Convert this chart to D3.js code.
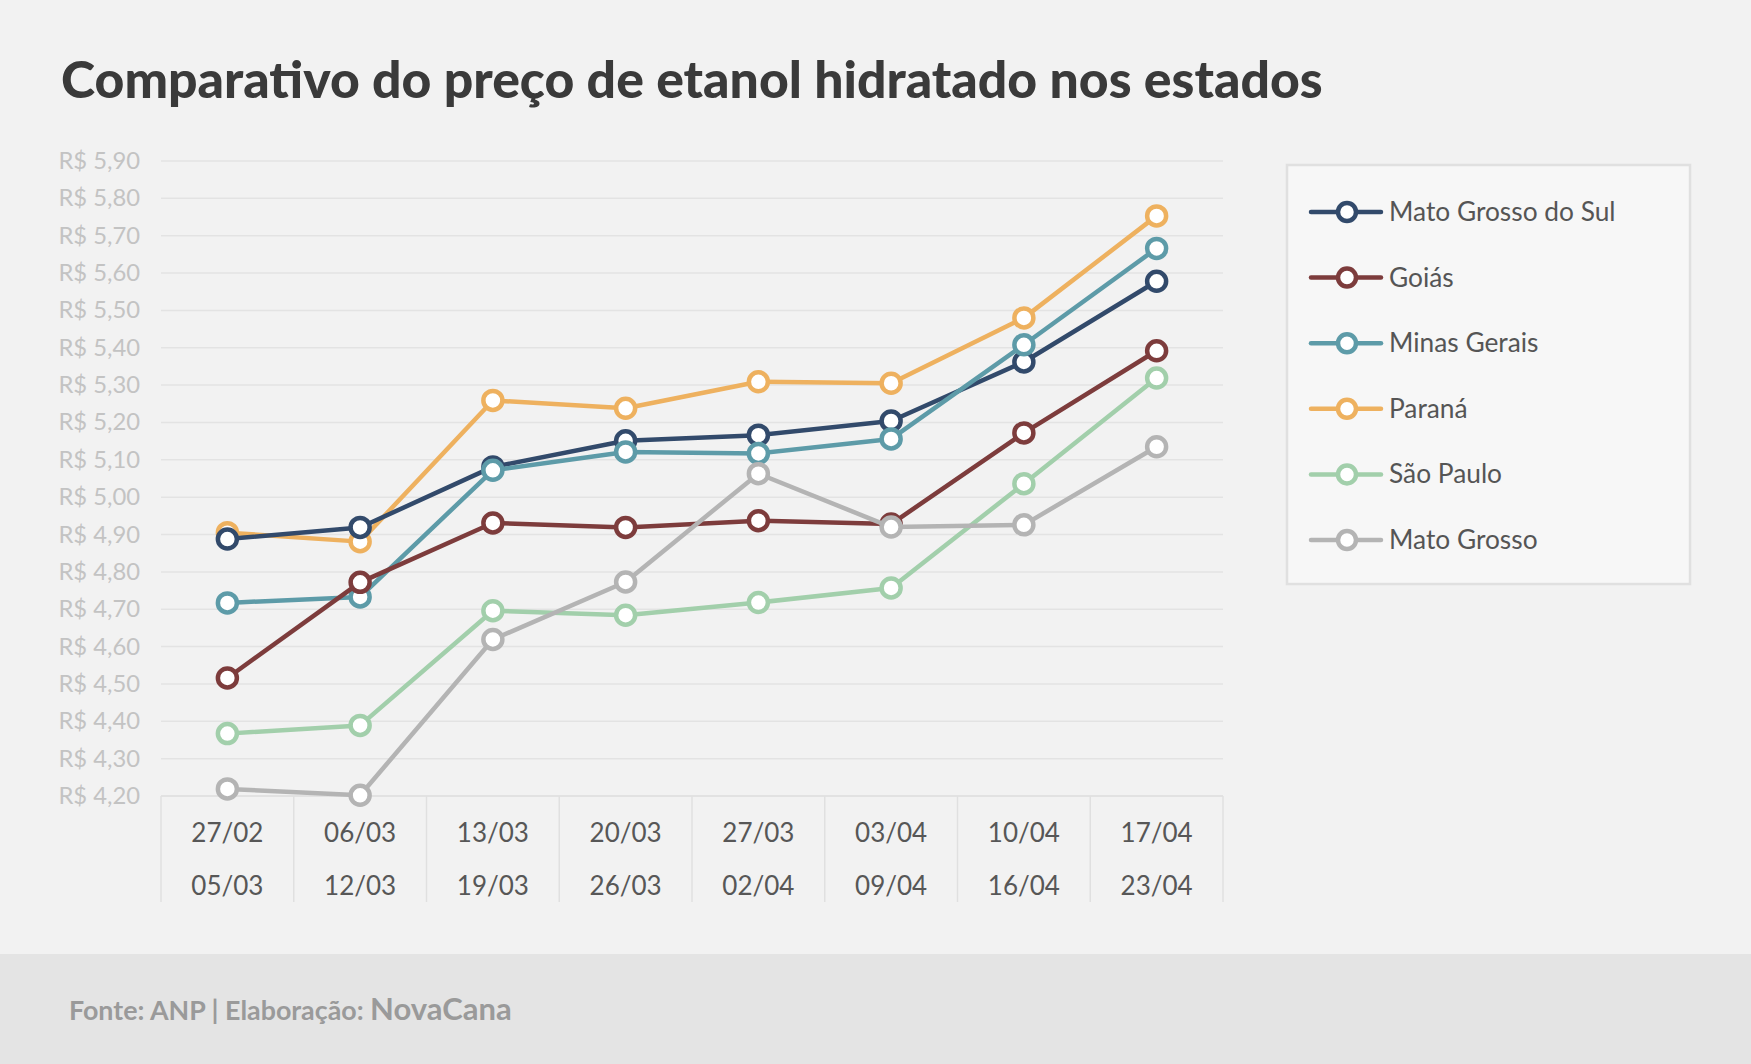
<!DOCTYPE html>
<html>
<head>
<meta charset="utf-8">
<script src="https://cdn.jsdelivr.net/npm/d3@7"></script>
<style>
  html, body { margin: 0; padding: 0; background: #f2f2f2; }
  #chart { width: 1751px; height: 1064px; }
  text { font-family: Lato, "Open Sans", sans-serif; }
</style>
</head>
<body>
<div id="chart"></div>
<script>
// week ranges (two lines per tick)
const WEEK_START = ["27/02", "06/03", "13/03", "20/03", "27/03", "03/04", "10/04", "17/04"];
const WEEK_END = ["05/03", "12/03", "19/03", "26/03", "02/04", "09/04", "16/04", "23/04"];

// y ticks
const Y_TICKS = [4.2, 4.3, 4.4, 4.5, 4.6, 4.7, 4.8, 4.9, 5.0, 5.1, 5.2, 5.3, 5.4, 5.5, 5.6, 5.7, 5.8, 5.9];

// legend order
const STATES = ["Mato Grosso do Sul", "Goiás", "Minas Gerais", "Paraná", "São Paulo", "Mato Grosso"];
const COLORS = ["#324a6b", "#7d3c3c", "#5d9ba8", "#eeb15f", "#a2cfab", "#b4b4b4"];

// avg prices (R$)
const MS_VALUES = [4.888, 4.919, 5.081, 5.151, 5.166, 5.204, 5.362, 5.578];
const GO_VALUES = [4.516, 4.772, 4.931, 4.919, 4.937, 4.928, 5.172, 5.392];
const MG_VALUES = [4.717, 4.733, 5.072, 5.121, 5.117, 5.156, 5.408, 5.666];
const PR_VALUES = [4.905, 4.881, 5.259, 5.238, 5.309, 5.305, 5.480, 5.753];
const SP_VALUES = [4.367, 4.389, 4.696, 4.684, 4.718, 4.757, 5.036, 5.319];
const MT_VALUES = [4.219, 4.202, 4.619, 4.773, 5.063, 4.920, 4.926, 5.135];

(() => {
  const W = 1751, H = 1064;
  const margin = { top: 161, left: 161 };
  const plotW = 1062, plotH = 635;

  const svgRoot = d3.select("#chart")
    .append("svg")
    .attr("width", W)
    .attr("height", H);

  svgRoot.append("rect")
    .attr("width", W).attr("height", H)
    .attr("fill", "#f2f2f2");

  // footer band
  svgRoot.append("rect")
    .attr("x", 0).attr("y", 954)
    .attr("width", W).attr("height", H - 954)
    .attr("fill", "#e4e4e4");

  // Title (fit to reference width)
  const title = svgRoot.append("text")
    .attr("x", 61)
    .attr("y", 98)
    .attr("font-size", 56)
    .attr("font-weight", 900)
    .attr("fill", "#3a3a3a")
    .text("Comparativo do preço de etanol hidratado nos estados");
  const tw = title.node().getComputedTextLength();
  title.attr("font-size", 56 * 1262 / tw);

  // Footer
  const foot = svgRoot.append("text")
    .attr("x", 69)
    .attr("y", 1020)
    .attr("fill", "#9a9a9a")
    .attr("font-weight", 700)
    .attr("font-size", 26.8);
  foot.append("tspan").text("Fonte: ANP | Elaboração: ");
  foot.append("tspan").attr("font-size", 31).text("NovaCana");

  const svg = svgRoot.append("g")
    .attr("transform", `translate(${margin.left},${margin.top})`);

  const x = d3.scaleBand()
    .domain(WEEK_START)
    .range([0, plotW]);

  const y = d3.scaleLinear()
    .domain([4.2, 5.9])
    .range([plotH, 0]);

  // gridlines
  svg.append("g")
    .selectAll("line")
    .data(Y_TICKS)
    .enter()
    .append("line")
    .attr("x1", 0).attr("x2", plotW)
    .attr("y1", (d) => y(d)).attr("y2", (d) => y(d))
    .attr("stroke", (d) => (d === 4.2 ? "#dcdcdc" : "#e3e3e3"))
    .attr("stroke-width", 1.5);

  // y labels
  svg.append("g")
    .selectAll("text")
    .data(Y_TICKS)
    .enter()
    .append("text")
    .attr("x", -21)
    .attr("y", (d) => y(d) + 8)
    .attr("text-anchor", "end")
    .attr("font-size", 23.8)
    .attr("fill", "#c3c3c3")
    .text((d) => "R$ " + d.toFixed(2).replace(".", ","));

  // category dividers under the axis
  const dividers = WEEK_START.map((d) => x(d)).concat([plotW]);
  svg.append("g")
    .selectAll("line")
    .data(dividers)
    .enter()
    .append("line")
    .attr("x1", (d) => d).attr("x2", (d) => d)
    .attr("y1", plotH).attr("y2", plotH + 106)
    .attr("stroke", "#e0e0e0")
    .attr("stroke-width", 1.5);

  // category labels
  const xl = svg.append("g");
  WEEK_START.forEach((d, i) => {
    const cx = x(d) + x.bandwidth() / 2;
    xl.append("text")
      .attr("x", cx).attr("y", plotH + 46)
      .attr("text-anchor", "middle")
      .attr("font-size", 26)
      .attr("fill", "#575757")
      .text(d);
    xl.append("text")
      .attr("x", cx).attr("y", plotH + 99)
      .attr("text-anchor", "middle")
      .attr("font-size", 26)
      .attr("fill", "#575757")
      .text(WEEK_END[i]);
  });

  const seriesValues = [MS_VALUES, GO_VALUES, MG_VALUES, PR_VALUES, SP_VALUES, MT_VALUES];
  const series = STATES.map((name, i) => ({ name, color: COLORS[i], values: seriesValues[i] }));

  // drawing order (bottom to top)
  const drawOrder = ["Paraná", "Mato Grosso do Sul", "Minas Gerais", "Goiás", "São Paulo", "Mato Grosso"];

  const line = d3.line()
    .x((d, i) => x(WEEK_START[i]) + x.bandwidth() / 2)
    .y((d) => y(d));

  drawOrder.forEach((name) => {
    const s = series.find((d) => d.name === name);
    const g = svg.append("g");
    g.append("path")
      .datum(s.values)
      .attr("fill", "none")
      .attr("stroke", s.color)
      .attr("stroke-width", 4.5)
      .attr("stroke-linejoin", "round")
      .attr("d", line);
    g.selectAll("circle")
      .data(s.values)
      .enter()
      .append("circle")
      .attr("cx", (d, i) => x(WEEK_START[i]) + x.bandwidth() / 2)
      .attr("cy", (d) => y(d))
      .attr("r", 9.5)
      .attr("fill", "#ffffff")
      .attr("stroke", s.color)
      .attr("stroke-width", 4.5);
  });

  // Legend
  const legend = svgRoot.append("g");
  legend.append("rect")
    .attr("x", 1287).attr("y", 165)
    .attr("width", 403).attr("height", 419)
    .attr("fill", "#f7f7f7")
    .attr("stroke", "#e0e0e0")
    .attr("stroke-width", 2.5);

  series.forEach((s, i) => {
    const ly = 212 + i * 65.6;
    legend.append("line")
      .attr("x1", 1311).attr("x2", 1381)
      .attr("y1", ly).attr("y2", ly)
      .attr("stroke", s.color)
      .attr("stroke-width", 4.5)
      .attr("stroke-linecap", "round");
    legend.append("circle")
      .attr("cx", 1347).attr("cy", ly)
      .attr("r", 9)
      .attr("fill", "#ffffff")
      .attr("stroke", s.color)
      .attr("stroke-width", 4.5);
    legend.append("text")
      .attr("x", 1389).attr("y", ly + 9)
      .attr("font-size", 26.3)
      .attr("fill", "#555555")
      .text(s.name);
  });
})();
</script>
</body>
</html>
